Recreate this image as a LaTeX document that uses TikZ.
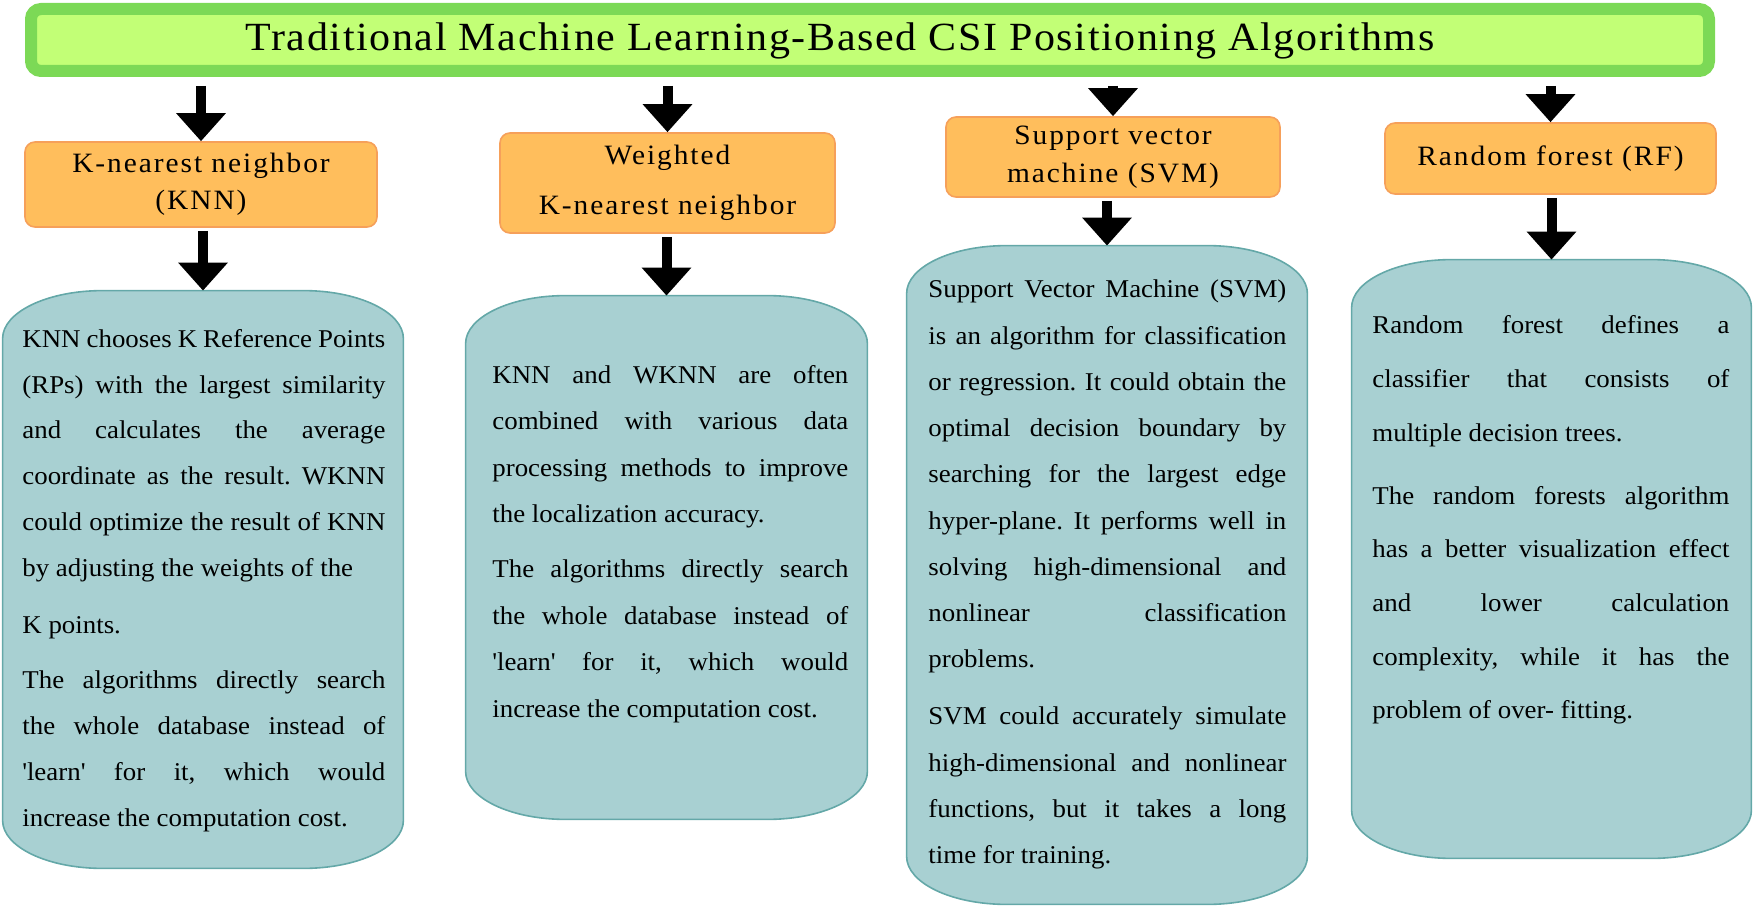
\documentclass[tikz,border=0pt]{standalone}
\usepackage{fontspec}
\setmainfont{Liberation Serif}[FakeStretch=1.05]
\usetikzlibrary{arrows.meta}

\definecolor{titlefill}{RGB}{194,255,118}
\definecolor{titleline}{RGB}{124,217,86}
\definecolor{algofill}{RGB}{255,190,92}
\definecolor{algoline}{RGB}{246,160,90}
\definecolor{bodyfill}{RGB}{168,208,210}
\definecolor{bodyline}{RGB}{100,168,168}

\hyphenpenalty=10000
\exhyphenpenalty=10000
\tolerance=10000
\hbadness=10000
\frenchspacing

% teal box with wide flat corners, drawn round a named node
\newcommand{\drawbody}[1]{%
    \filldraw[fill=bodyfill, draw=bodyline, line width=0.8pt]
        ([yshift=-24pt]#1.north west)
        arc[start angle=180, end angle=90, x radius=50pt, y radius=24pt]
        -- ([xshift=-50pt]#1.north east)
        arc[start angle=90, end angle=0, x radius=50pt, y radius=24pt]
        -- ([yshift=24pt]#1.south east)
        arc[start angle=0, end angle=-90, x radius=50pt, y radius=24pt]
        -- ([xshift=50pt]#1.south west)
        arc[start angle=-90, end angle=-180, x radius=50pt, y radius=24pt]
        -- cycle;}
\newcommand{\nextpar}[1]{\par\vspace{#1}}

\begin{document}
\begin{tikzpicture}[x=0.5pt, y=-0.5pt,
    titlebox/.style={draw=titleline, fill=titlefill, line width=6pt,
        rounded corners=5pt, inner sep=0pt},
    algobox/.style={draw=algoline, fill=algofill, line width=0.8pt,
        rounded corners=5pt, inner sep=0pt, align=center},
    body/.style={inner sep=0pt},
    bodytext/.style={align=justify, inner sep=0pt, anchor=base west},
    bigarrow/.style={line width=5pt, -{Triangle[width=24pt, length=14pt]}}]

    \useasboundingbox (0,0) rectangle (1756,909);

    % title bar
    \node[titlebox, minimum width=839pt, minimum height=31pt] (title) at (870,40) {};
    \node[inner sep=0pt, font=\fontsize{20}{24}\selectfont\addfontfeature{LetterSpace=4}]
        (titletext) at (840,41)
        {Traditional Machine Learning-Based CSI Positioning Algorithms};

    % algorithm boxes
    \node[algobox, minimum width=176pt, minimum height=42.5pt,
        font=\fontsize{14}{18.5}\selectfont\addfontfeature{LetterSpace=7}]
        (knn) at (201,184.5) {K-nearest neighbor\\(KNN)};
    \node[algobox, minimum width=167.5pt, minimum height=50pt,
        font=\fontsize{14}{25}\selectfont\addfontfeature{LetterSpace=7}]
        (wknn) at (667.5,183) {Weighted\\K-nearest neighbor};
    \node[algobox, minimum width=167pt, minimum height=40pt,
        font=\fontsize{14}{19}\selectfont\addfontfeature{LetterSpace=7}]
        (svm) at (1113,157) {Support vector\\machine (SVM)};
    \node[algobox, minimum width=165.5pt, minimum height=35.5pt,
        font=\fontsize{14}{18.5}\selectfont\addfontfeature{LetterSpace=7}]
        (rf) at (1550.5,158.5) {Random forest (RF)};

    % description boxes
    \node[body, minimum width=200pt, minimum height=288.5pt] (knnbody) at (203,579.5) {};
    \node[body, minimum width=200.5pt, minimum height=261.5pt] (wknnbody) at (666.5,557.5) {};
    \node[body, minimum width=200pt, minimum height=329pt] (svmbody) at (1107,575) {};
    \node[body, minimum width=199.5pt, minimum height=299pt] (rfbody) at (1551.5,559) {};
    \drawbody{knnbody}
    \drawbody{wknnbody}
    \drawbody{svmbody}
    \drawbody{rfbody}

    \node[bodytext, text width=181.5pt, font=\fontsize{12.8}{23}\selectfont]
        (knntext) at (22,347) {%
        KNN chooses K Reference Points\linebreak
        (RPs) with the largest similarity\linebreak
        and calculates the average\linebreak
        coordinate as the result. WKNN\linebreak
        could optimize the result of KNN\linebreak
        by adjusting the weights of the\nextpar{5pt}
        K points.\nextpar{5pt}
        The algorithms directly search\linebreak
        the whole database instead of\linebreak
        \textquotesingle learn\textquotesingle{} for it, which would\linebreak
        increase the computation cost.};

    \node[bodytext, text width=178pt, font=\fontsize{12.8}{23.3}\selectfont]
        (wknntext) at (492,383) {%
        KNN and WKNN are often\linebreak
        combined with various data\linebreak
        processing methods to improve\linebreak
        the localization accuracy.\nextpar{4pt}
        The algorithms directly search\linebreak
        the whole database instead of\linebreak
        \textquotesingle learn\textquotesingle{} for it, which would\linebreak
        increase the computation cost.};

    \node[bodytext, text width=179pt, font=\fontsize{12.8}{23.1}\selectfont]
        (svmtext) at (928,298) {%
        Support Vector Machine (SVM)\linebreak
        is an algorithm for classification\linebreak
        or regression. It could obtain the\linebreak
        optimal decision boundary by\linebreak
        searching for the largest edge\linebreak
        hyper-plane. It performs well in\linebreak
        solving high-dimensional and\linebreak
        nonlinear classification\linebreak
        problems.\nextpar{5.5pt}
        SVM could accurately simulate\linebreak
        high-dimensional and nonlinear\linebreak
        functions, but it takes a long\linebreak
        time for training.};

    \node[bodytext, text width=178.5pt, font=\fontsize{12.8}{26.8}\selectfont]
        (rftext) at (1372,334) {%
        Random forest defines a\linebreak
        classifier that consists of\linebreak
        multiple decision trees.\nextpar{4.75pt}
        The random forests algorithm\linebreak
        has a better visualization effect\linebreak
        and lower calculation\linebreak
        complexity, while it has the\linebreak
        problem of over- fitting.};

    % arrows
    \draw[bigarrow, shorten <=4.5pt] (title.south -| knn.north) -- (knn.north);
    \draw[bigarrow, shorten <=4.5pt] (title.south -| wknn.north) -- (wknn.north);
    \draw[bigarrow, shorten <=4.5pt] (title.south -| svm.north) -- (svm.north);
    \draw[bigarrow, shorten <=4.5pt] (title.south -| rf.north) -- (rf.north);
    \draw[bigarrow, shorten <=1.5pt] (knn.south -| knnbody.north) -- (knnbody.north);
    \draw[bigarrow, shorten <=1.5pt] (wknn.south -| wknnbody.north) -- (wknnbody.north);
    \draw[bigarrow, shorten <=1.5pt] (svm.south -| svmbody.north) -- (svmbody.north);
    \draw[bigarrow, shorten <=1.5pt] (rf.south -| rfbody.north) -- (rfbody.north);
\end{tikzpicture}
\end{document}
